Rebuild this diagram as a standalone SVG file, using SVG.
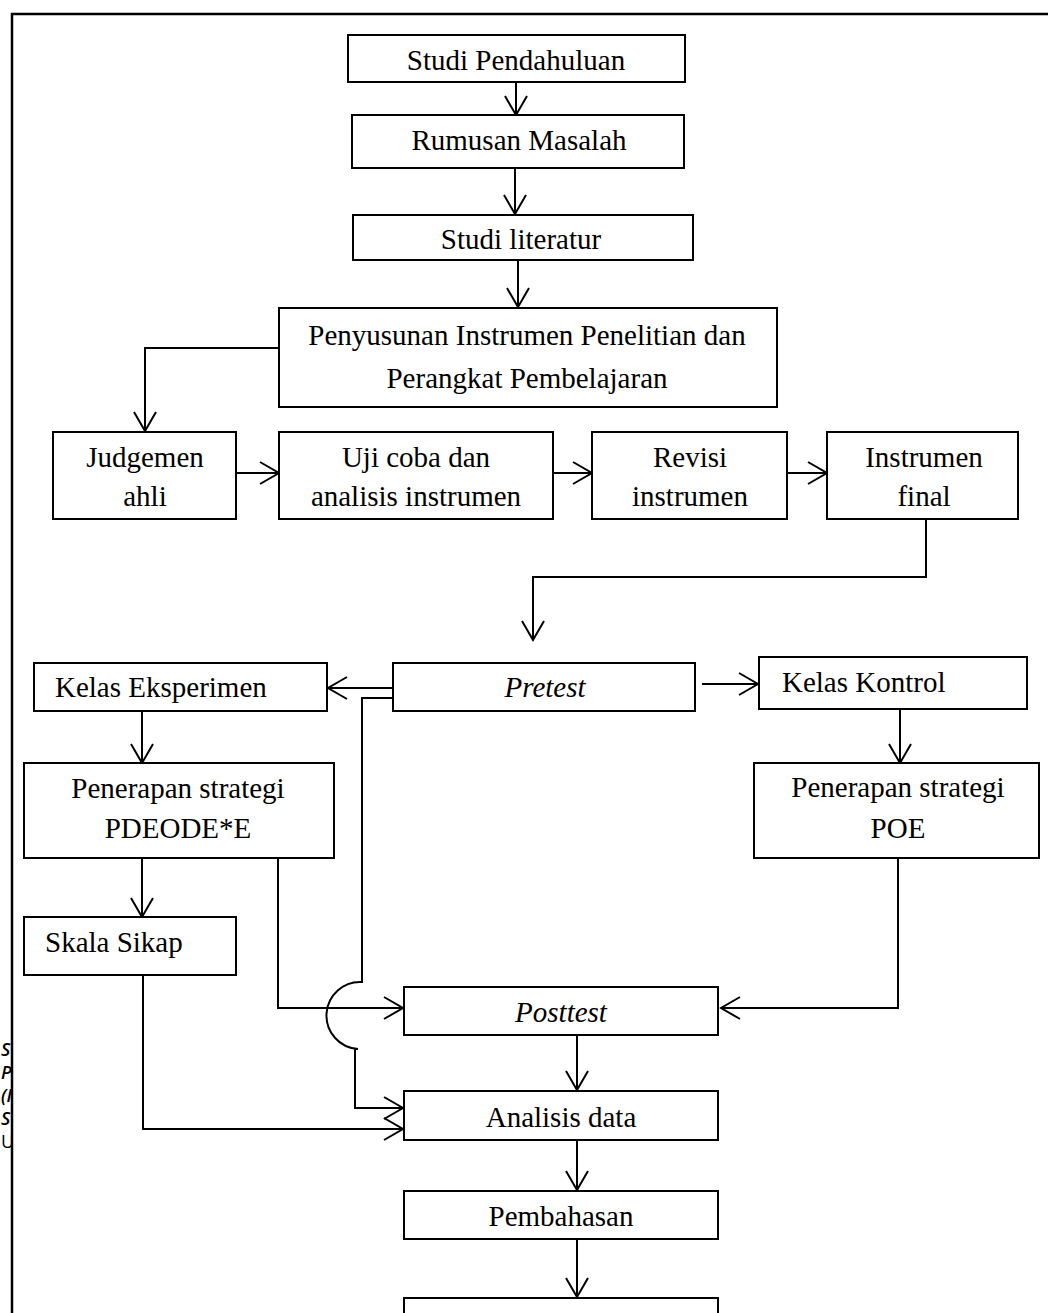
<svg xmlns="http://www.w3.org/2000/svg" width="1048" height="1313" viewBox="0 0 1048 1313">
<style>
.box{fill:#fff;stroke:#000;stroke-width:2}
.t{font-family:"Liberation Serif","Times New Roman",serif;font-size:29px;fill:#000}
.c{text-anchor:middle}
.i{font-style:italic}
.ln{fill:none;stroke:#000;stroke-width:2}
.side{font-family:"Open Sans","Noto Sans",sans-serif;font-size:18px;font-style:italic;font-weight:600;fill:#000}
</style>
<defs>
<marker id="ah" viewBox="-22 -13 24 26" refX="0" refY="0" markerWidth="24" markerHeight="26" markerUnits="userSpaceOnUse" orient="auto">
<path d="M-19,-11 L0,0 L-19,11" fill="none" stroke="#000" stroke-width="2"/>
</marker>
<clipPath id="sideclip"><rect x="0" y="0" width="11" height="1313"/></clipPath>
</defs>
<rect x="0" y="0" width="1048" height="1313" fill="#fff"/>
<g id="side-text" clip-path="url(#sideclip)">
<text class="side" x="1" y="1056">S</text>
<text class="side" x="1" y="1079">P</text>
<text class="side" x="1" y="1102">(I</text>
<text class="side" x="1" y="1125">S</text>
<text class="side" x="1" y="1148" style="font-style:normal;font-weight:400">U</text>
</g>
<path id="frame" d="M12,1313 L12,14 L1048,14" fill="none" stroke="#000" stroke-width="2.5"/>

<g id="connectors">
<line class="ln" x1="516" y1="82" x2="516" y2="115" marker-end="url(#ah)"/>
<line class="ln" x1="515" y1="168" x2="515" y2="214" marker-end="url(#ah)"/>
<line class="ln" x1="518" y1="260" x2="518" y2="307" marker-end="url(#ah)"/>
<polyline class="ln" points="279,348 145,348 145,431" marker-end="url(#ah)"/>
<line class="ln" x1="236" y1="473" x2="279" y2="473" marker-end="url(#ah)"/>
<line class="ln" x1="553" y1="473" x2="592" y2="473" marker-end="url(#ah)"/>
<line class="ln" x1="787" y1="473" x2="827" y2="473" marker-end="url(#ah)"/>
<polyline class="ln" points="926,519 926,577 533,577 533,640" marker-end="url(#ah)"/>
<line class="ln" x1="393" y1="688" x2="328" y2="688" marker-end="url(#ah)"/>
<path class="ln" d="M393,698 L362,698 L362,982 A33.5,33.5 0 0 0 358,1049 L355,1049 L355,1108 L403,1108" marker-end="url(#ah)"/>
<line class="ln" x1="702" y1="684" x2="758" y2="684" marker-end="url(#ah)"/>
<line class="ln" x1="900" y1="709" x2="900" y2="763" marker-end="url(#ah)"/>
<polyline class="ln" points="898,858 898,1008 721,1008" marker-end="url(#ah)"/>
<line class="ln" x1="142" y1="711" x2="142" y2="763" marker-end="url(#ah)"/>
<line class="ln" x1="142" y1="858" x2="142" y2="917" marker-end="url(#ah)"/>
<polyline class="ln" points="278,858 278,1008 403,1008" marker-end="url(#ah)"/>
<polyline class="ln" points="143,975 143,1129 403,1129" marker-end="url(#ah)"/>
<line class="ln" x1="577" y1="1035" x2="577" y2="1090" marker-end="url(#ah)"/>
<line class="ln" x1="577" y1="1140" x2="577" y2="1190" marker-end="url(#ah)"/>
<line class="ln" x1="577" y1="1239" x2="577" y2="1297" marker-end="url(#ah)"/>
</g>

<g id="n-studi-pendahuluan"><rect class="box" x="348" y="35" width="337" height="47"/><text class="t c" x="516" y="70">Studi Pendahuluan</text></g>
<g id="n-rumusan"><rect class="box" x="352" y="115" width="332" height="53"/><text class="t c" x="519" y="150">Rumusan Masalah</text></g>
<g id="n-studi-literatur"><rect class="box" x="353" y="215" width="340" height="45"/><text class="t c" x="521" y="249">Studi literatur</text></g>
<g id="n-penyusunan"><rect class="box" x="279" y="308" width="498" height="99"/><text class="t c" x="527" y="345">Penyusunan Instrumen Penelitian dan</text><text class="t c" x="527" y="388">Perangkat Pembelajaran</text></g>
<g id="n-judgemen"><rect class="box" x="53" y="432" width="183" height="87"/><text class="t c" x="145" y="467">Judgemen</text><text class="t c" x="145" y="506">ahli</text></g>
<g id="n-ujicoba"><rect class="box" x="279" y="432" width="274" height="87"/><text class="t c" x="416" y="467">Uji coba dan</text><text class="t c" x="416" y="506">analisis instrumen</text></g>
<g id="n-revisi"><rect class="box" x="592" y="432" width="195" height="87"/><text class="t c" x="690" y="467">Revisi</text><text class="t c" x="690" y="506">instrumen</text></g>
<g id="n-final"><rect class="box" x="827" y="432" width="191" height="87"/><text class="t c" x="924" y="467">Instrumen</text><text class="t c" x="924" y="506">final</text></g>
<g id="n-pretest"><rect class="box" x="393" y="663" width="302" height="48"/><text class="t c i" x="545" y="697">Pretest</text></g>
<g id="n-eksperimen"><rect class="box" x="34" y="663" width="293" height="48"/><text class="t" x="55" y="697">Kelas Eksperimen</text></g>
<g id="n-kontrol"><rect class="box" x="759" y="657" width="268" height="52"/><text class="t" x="782" y="692">Kelas Kontrol</text></g>
<g id="n-pdeode"><rect class="box" x="24" y="763" width="310" height="95"/><text class="t c" x="178" y="798">Penerapan strategi</text><text class="t c" x="178" y="838">PDEODE*E</text></g>
<g id="n-poe"><rect class="box" x="754" y="763" width="285" height="95"/><text class="t c" x="898" y="797">Penerapan strategi</text><text class="t c" x="898" y="838">POE</text></g>
<g id="n-skala"><rect class="box" x="24" y="917" width="212" height="58"/><text class="t" x="45" y="952">Skala Sikap</text></g>
<g id="n-posttest"><rect class="box" x="404" y="987" width="314" height="48"/><text class="t c i" x="561" y="1022">Posttest</text></g>
<g id="n-analisis"><rect class="box" x="404" y="1091" width="314" height="49"/><text class="t c" x="561" y="1127">Analisis data</text></g>
<g id="n-pembahasan"><rect class="box" x="404" y="1191" width="314" height="48"/><text class="t c" x="561" y="1226">Pembahasan</text></g>
<g id="n-last"><rect class="box" x="404" y="1298" width="314" height="30"/></g>
</svg>
